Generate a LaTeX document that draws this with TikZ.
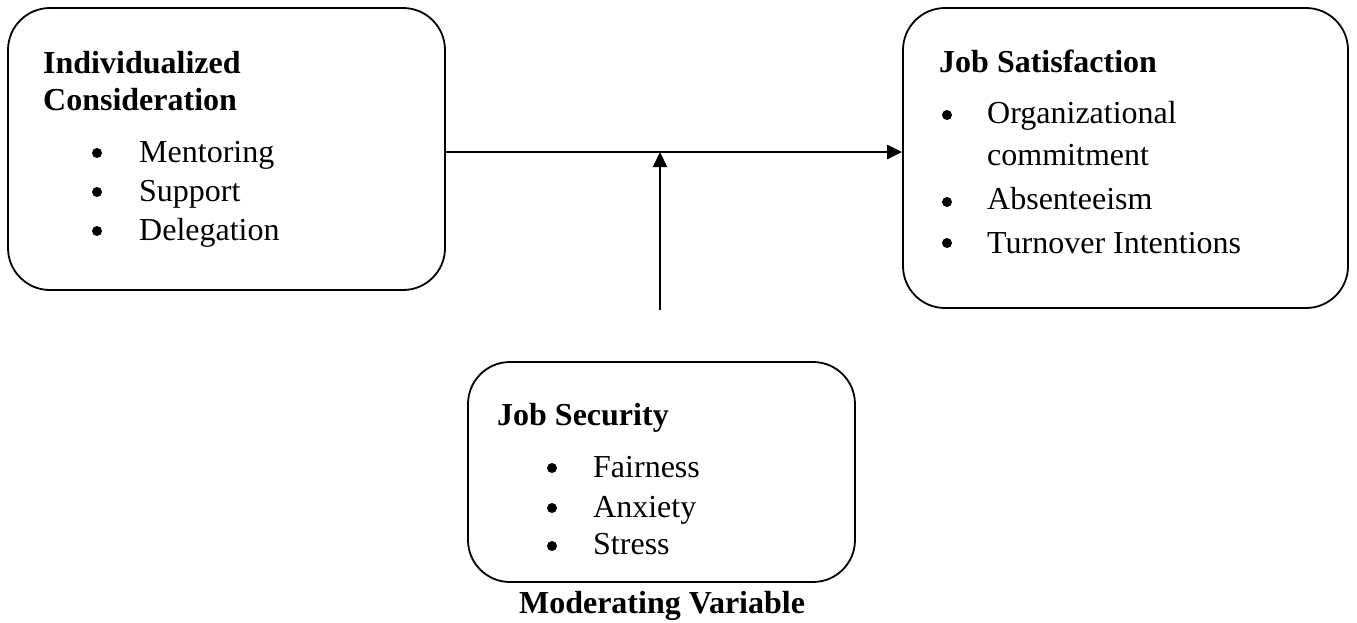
\documentclass[tikz,border=0pt]{standalone}
\usepackage{fontspec}
\setmainfont{Liberation Serif}
\usetikzlibrary{arrows.meta}
\begin{document}
\begin{tikzpicture}[x=1pt,y=-1pt,
  box/.style={draw,line width=1.8pt,rounded corners=42pt,inner sep=0pt},
  txt/.style={anchor=base west,inner sep=0pt,font=\fontsize{32}{38}\selectfont},
  head/.style={txt,font=\fontsize{32}{38}\selectfont\bfseries},
  bul/.style={circle,fill=black,inner sep=0pt,minimum size=10pt},
  conn/.style={line width=2.2pt,-{Triangle[length=15pt,width=14pt]}}]
\useasboundingbox (0,0) rectangle (1357,622);
% boxes
\node[box,minimum width=437pt,minimum height=282pt] (left) at (226.5,149) {};
\node[box,minimum width=445pt,minimum height=300pt] (right) at (1125.5,158) {};
\node[box,minimum width=387pt,minimum height=220pt] (bottom) at (661.5,472) {};
% left texts
\node[head] (l1) at (43,73) {Individualized};
\node[head] (l2) at (43,110) {Consideration};
\node[bul] (lb1) at (97,153) {};
\node[txt] (lt1) at (139,162) {Mentoring};
\node[bul] (lb2) at (97,192) {};
\node[txt] (lt2) at (139,201) {Support};
\node[bul] (lb3) at (97,231) {};
\node[txt] (lt3) at (139,240) {Delegation};
% right texts
\node[head] (r1) at (939,72) {Job Satisfaction};
\node[bul] (rb1) at (947,115) {};
\node[txt] (rt1) at (987,123) {Organizational};
\node[txt] (rt1b) at (987,165) {commitment};
\node[bul] (rb2) at (947,202) {};
\node[txt] (rt2) at (987,209) {Absenteeism};
\node[bul] (rb3) at (947,243) {};
\node[txt] (rt3) at (987,253) {Turnover Intentions};
% bottom texts
\node[head] (b1) at (497,425) {Job Security};
\node[bul] (bb1) at (552,468) {};
\node[txt] (bt1) at (593,477) {Fairness};
\node[bul] (bb2) at (552,508) {};
\node[txt] (bt2) at (593,517) {Anxiety};
\node[bul] (bb3) at (552,546) {};
\node[txt] (bt3) at (593,554) {Stress};
\node[head,anchor=base] (mv) at (662,613) {Moderating Variable};
% connectors
\coordinate (h) at (660,152);
\coordinate (v) at (660,310);
\draw[conn] (left.east |- h) -- (right.west |- h);
\draw[conn] (v) -- (h);
\end{tikzpicture}
\end{document}
